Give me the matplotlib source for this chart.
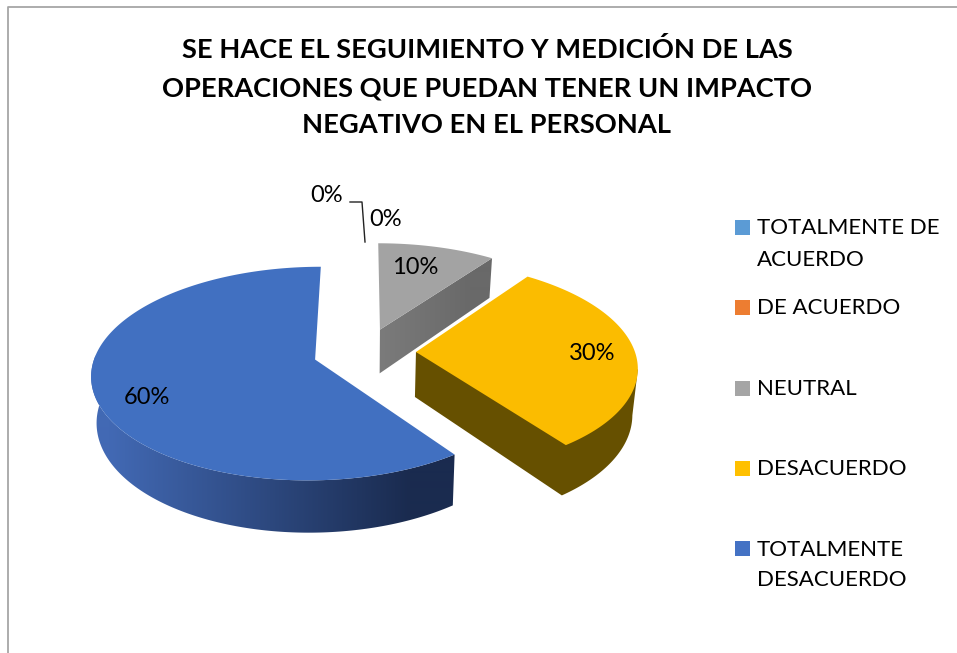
import matplotlib
matplotlib.use('Agg')
import matplotlib.pyplot as plt
import matplotlib.colors as mcolors
from matplotlib.patches import Polygon
import numpy as np

plt.rcParams['font.family'] = ['Lato', 'DejaVu Sans']

##### Data ######
title_lines = ['SE HACE EL SEGUIMIENTO Y MEDICIÓN DE LAS',
               'OPERACIONES QUE PUEDAN TENER UN IMPACTO',
               'NEGATIVO EN EL PERSONAL']
categories = ['TOTALMENTE DE\nACUERDO', 'DE ACUERDO', 'NEUTRAL', 'DESACUERDO',
              'TOTALMENTE\nDESACUERDO']
values = [0, 0, 10, 30, 60]
value_labels = ['0%', '0%', '10%', '30%', '60%']
legend_colors = ['#5b9bd5', '#ed7d31', '#a5a5a5', '#ffc000', '#4472c4']

##### Pie geometry (pixels) ######
cx, cy = 364.5, 352.0
rx, ry = 219.0, 103.0
persp = 0.13
depth = 45.0
explode = 0.235
shrink = 0.98


def project(u, v, bottom=False):
    # tilted disc -> picture coords, bottom face is a bit smaller
    w = 1 + persp * v
    x = rx * u / w
    y = -ry * v / w
    if bottom:
        return cx + x * shrink, cy + y + depth / w
    return cx + x, cy + y


def slice_points(a0, a1, n=120):
    # angles clockwise from 12 o'clock, returns disc coords of apex and arc
    mid = np.radians((a0 + a1) / 2)
    ou, ov = explode * np.sin(mid), explode * np.cos(mid)
    t = np.radians(np.linspace(a0, a1, n))
    return ou, ov, ou + np.sin(t), ov + np.cos(t)


def gradient_fill(ax, xs, ys, c_left, c_right, x0, x1, zorder):
    # horizontal gradient clipped to a polygon, image spans the whole width
    ramp = np.clip((np.arange(957) + 0.5 - x0) / (x1 - x0), 0, 1)[None, :, None]
    rgb = np.array(mcolors.to_rgb(c_left)) * (1 - ramp) + np.array(mcolors.to_rgb(c_right)) * ramp
    im = ax.imshow(rgb, extent=[0, 957, 653, 0], aspect='auto', zorder=zorder, interpolation='bilinear')
    poly = Polygon(np.c_[xs, ys], closed=True, transform=ax.transData, facecolor='none', edgecolor='none')
    ax.add_patch(poly)
    im.set_clip_path(poly)


total = sum(values)
edges = np.cumsum([0] + values) / total * 360
slices = {name: (edges[i], edges[i + 1]) for i, name in enumerate(categories)}

fig = plt.figure(figsize=(9.57, 6.53), dpi=100)
ax = fig.add_axes([0, 0, 1, 1])
ax.axis('off')

# chart border, only top and left show up
ax.plot([8, 8, 957], [653, 6.5, 6.5], color='#a6a6a6', lw=1.3)

##### Blue slice ######
a0, a1 = slices[categories[4]]
ou, ov, au, av = slice_points(a0, a1, 240)
tx, ty = project(au, av)
bx, by = project(au, av, bottom=True)
front = av < -0.02
gradient_fill(ax, np.r_[tx[front], bx[front][::-1]], np.r_[ty[front], by[front][::-1]],
              '#4269b4', '#1a2b4f', 110, 410, 2)
ax_, ay_ = project(ou, ov)
ax.fill(np.r_[ax_, tx], np.r_[ay_, ty], color='#4170c1', lw=0, zorder=3)

##### Grey slice ######
a0, a1 = slices[categories[2]]
ou, ov, au, av = slice_points(a0, a1)
tx, ty = project(au, av)
ax_, ay_ = project(ou, ov)
bx_, by_ = project(ou, ov, bottom=True)
ex, ey = project(au[-1], av[-1], bottom=True)
gradient_fill(ax, [ax_, tx[-1], ex, bx_], [ay_, ty[-1], ey, by_], '#7b7b7b', '#696969', 380, 470, 4)
ax.fill(np.r_[ax_, tx], np.r_[ay_, ty], color='#a3a3a3', lw=0, zorder=5)

##### Yellow slice ######
a0, a1 = slices[categories[3]]
ou, ov, au, av = slice_points(a0, a1)
tx, ty = project(au, av)
bx, by = project(au, av, bottom=True)
ax_, ay_ = project(ou, ov)
bx_, by_ = project(ou, ov, bottom=True)
i0 = np.argmax(tx)
ax.fill(np.r_[ax_, tx[i0], bx[i0:], bx_], np.r_[ay_, ty[i0], by[i0:], by_], color='#665000', lw=0, zorder=6)
ax.fill(np.r_[ax_, tx], np.r_[ay_, ty], color='#fbbc00', lw=0, zorder=7)

##### Labels ######
label_xy = [(327, 195), (386, 219), (415, 267), (592, 354), (147, 398)]
for s, (x, y) in zip(value_labels, label_xy):
    ax.text(x, y, s, fontsize=17, color='black', ha='center', va='center', zorder=10)
ax.plot([350, 362, 365], [202, 202, 242], color='#222222', lw=1.0, zorder=9)

##### Legend ######
legend_y = [227.5, 307.5, 388, 468, 548.5]
for name, col, y in zip(categories, legend_colors, legend_y):
    ax.fill([735, 750, 750, 735], [y - 7.5, y - 7.5, y + 7.5, y + 7.5], color=col, lw=0)
    for j, line in enumerate(name.split('\n')):
        ax.text(757, y + 1 + j * 31, line, fontsize=16, color='black', ha='left', va='center')

##### Title ######
for s, y in zip(title_lines, [49, 88, 125]):
    ax.text(487, y, s, fontsize=19.6, fontweight='bold', color='black', ha='center', va='center')

ax.set_xlim(0, 957)
ax.set_ylim(653, 0)
fig.savefig('out.png', dpi=100, facecolor='white')
